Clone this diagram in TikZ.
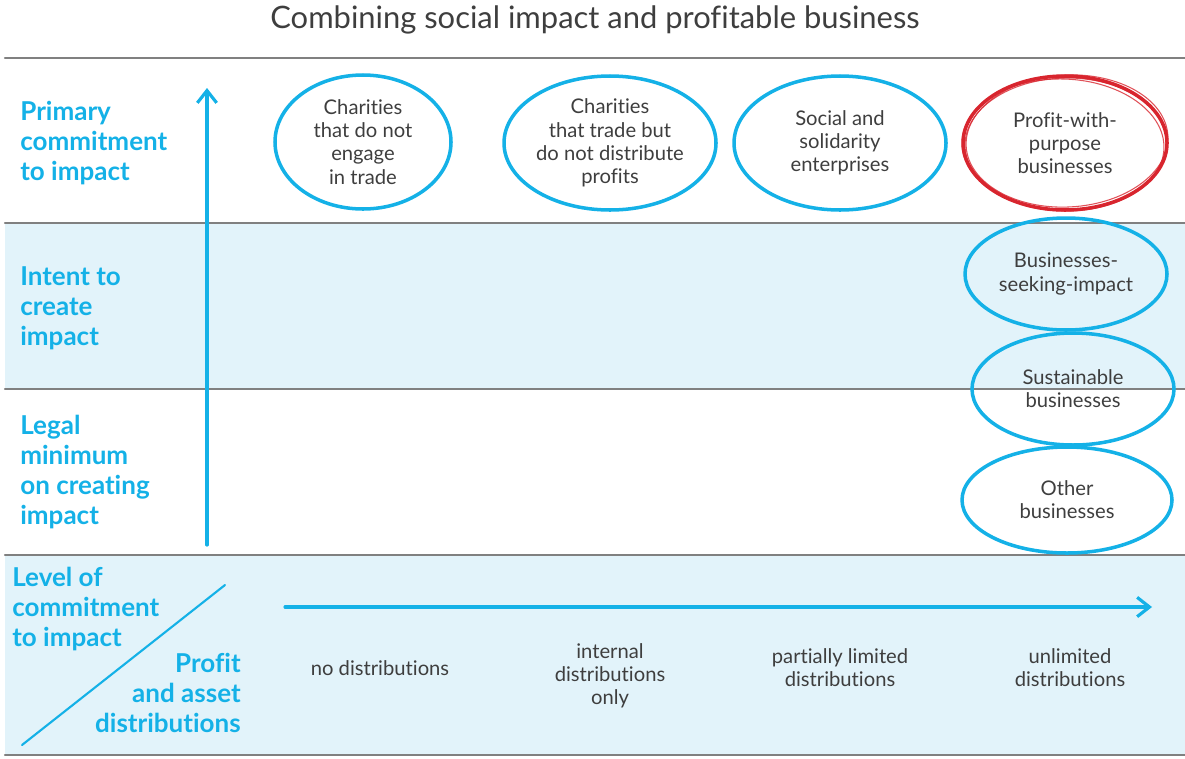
\documentclass[tikz,border=0pt]{standalone}
\usepackage{fontspec}
\setmainfont{Lato}[Ligatures=NoCommon]
\usetikzlibrary{shapes.geometric,arrows.meta}
\definecolor{xanh}{HTML}{14B1E7}
\definecolor{nenxanh}{HTML}{E2F3FA}
\definecolor{do}{HTML}{D8252E}
\definecolor{chu}{HTML}{3E3E3E}
\definecolor{ke}{HTML}{808080}
\def\px{0.02cm}
\begin{document}
\begin{tikzpicture}[x=0.02cm,y=-0.02cm,line join=round,line cap=round,
	vong/.style={draw=xanh,line width=2pt,ellipse,inner sep=0pt,text=chu,align=center,font=\fontsize{11.5}{13.2}\selectfont},
	nhan/.style={text=xanh,font=\bfseries\fontsize{14.8}{17.2}\selectfont,align=left,anchor=west,inner sep=0pt},
	cot/.style={text=chu,align=center,font=\fontsize{11.5}{13.2}\selectfont}]
	\useasboundingbox (0,0) rectangle (1185,758);
	%%%Nen va duong ke
	\fill[nenxanh] (5,223) rectangle (1185,389);
	\fill[nenxanh] (5,555) rectangle (1185,755);
	\foreach \y in {58,223,389,555,755}
	\draw[ke,line width=1.3pt] (5,\y)--(1185,\y);
	\node[text=chu,font=\fontsize{17.6}{20}\selectfont] (tieude) at (595,20) {Combining social impact and profitable business};
	%%%Nhan ben trai
	\node[nhan] (muc1) at (20,143) {Primary\\commitment\\to impact};
	\node[nhan] (muc2) at (20,308) {Intent to\\create\\impact};
	\node[nhan] (muc3) at (20,472) {Legal\\minimum\\on creating\\impact};
	\node[nhan] (muc4) at (12,609) {Level of\\commitment\\to impact};
	\node[nhan,anchor=east,align=right] (muc5) at (241,693) {Profit\\and asset\\distributions};
	\draw[xanh,line width=1.2pt] (22,745)--(225,585);
	%%%Mui ten
	\coordinate (d1) at (207,545);
	\coordinate (d2) at (207,88);
	\coordinate (n1) at (285,607);
	\coordinate (n2) at (1152,607);
	\draw[xanh,line width=1.8pt,-{Straight Barb[length=7pt,width=11pt]}] (d1)--(d2);
	\draw[xanh,line width=1.8pt,-{Straight Barb[length=7pt,width=11pt]}] (n1)--(n2);
	%%%Cac vong
	\node[vong,minimum width=176*\px,minimum height=134*\px] (v1) at (363,142) {Charities\\that do not\\engage\\in trade};
	\node[vong,minimum width=212*\px,minimum height=134*\px] (v2) at (610,143) {Charities\\that trade but\\do not distribute\\profits};
	\node[vong,minimum width=212*\px,minimum height=134*\px] (v3) at (840,143) {Social and\\solidarity\\enterprises};
	\node[vong,draw=do,minimum width=204*\px,minimum height=134*\px] (v4) at (1065,143) {Profit-with-\\purpose\\businesses};
	\foreach \dx/\dy/\g in {2/-2/3,-2/2/-2,1/1/1}
	\draw[do,line width=0.6pt,opacity=0.8] ([shift={(\dx*\px,-\dy*\px)}]v4.center) ellipse [x radius=101*\px,y radius=66*\px,rotate=\g];
	\node[vong,minimum width=202*\px,minimum height=112*\px] (v5) at (1066,274) {Businesses-\\seeking-impact};
	\node[vong,minimum width=202*\px,minimum height=112*\px] (v6) at (1073,389) {Sustainable\\businesses};
	\node[vong,minimum width=210*\px,minimum height=106*\px] (v7) at (1067,500) {Other\\businesses};
	%%%Cot phan phoi
	\node[cot] (c1) at (380,668) {no distributions};
	\node[cot] (c2) at (610,676) {internal\\distributions\\only};
	\node[cot] (c3) at (840,668) {partially limited\\distributions};
	\node[cot] (c4) at (1070,668) {unlimited\\distributions};
\end{tikzpicture}
\end{document}
